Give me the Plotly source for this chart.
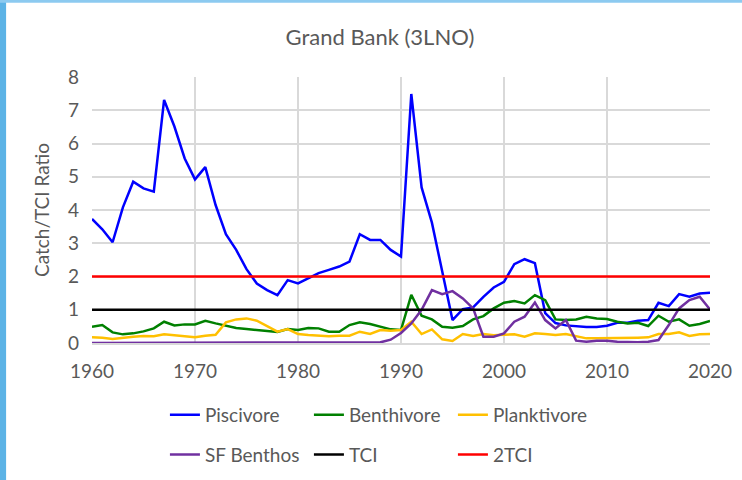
import plotly.graph_objects as go

years = list(range(1960, 2021))

piscivore = [3.73, 3.42, 3.03, 4.08, 4.85, 4.65, 4.55, 7.31, 6.51, 5.55,
             4.92, 5.29, 4.15, 3.27, 2.80, 2.22, 1.79, 1.59, 1.44, 1.89,
             1.79, 1.95, 2.10, 2.20, 2.30, 2.45, 3.27, 3.10, 3.10, 2.80,
             2.60, 7.49, 4.68, 3.62, 2.20, 0.69, 1.02, 1.07, 1.39, 1.67,
             1.84, 2.37, 2.52, 2.40, 0.90, 0.60, 0.53, 0.50, 0.48, 0.48,
             0.52, 0.61, 0.61, 0.67, 0.69, 1.21, 1.11, 1.47, 1.39, 1.49,
             1.51]
benthivore = [0.49, 0.54, 0.32, 0.26, 0.29, 0.35, 0.44, 0.64, 0.53, 0.56,
              0.56, 0.67, 0.59, 0.51, 0.45, 0.42, 0.39, 0.37, 0.33, 0.42,
              0.39, 0.45, 0.44, 0.34, 0.34, 0.54, 0.62, 0.57, 0.49, 0.41,
              0.39, 1.45, 0.82, 0.71, 0.49, 0.46, 0.51, 0.71, 0.81, 1.04,
              1.21, 1.26, 1.19, 1.44, 1.29, 0.71, 0.69, 0.71, 0.79, 0.74,
              0.72, 0.64, 0.59, 0.61, 0.51, 0.82, 0.64, 0.71, 0.52, 0.57,
              0.66]
planktivore = [0.17, 0.16, 0.12, 0.16, 0.19, 0.21, 0.20, 0.26, 0.23, 0.20,
               0.17, 0.22, 0.25, 0.62, 0.71, 0.74, 0.67, 0.51, 0.34, 0.42,
               0.27, 0.24, 0.22, 0.20, 0.22, 0.22, 0.34, 0.27, 0.39, 0.37,
               0.39, 0.64, 0.27, 0.41, 0.11, 0.06, 0.27, 0.21, 0.27, 0.23,
               0.25, 0.26, 0.19, 0.29, 0.27, 0.24, 0.27, 0.21, 0.14, 0.14,
               0.14, 0.14, 0.14, 0.16, 0.17, 0.27, 0.27, 0.32, 0.21, 0.26,
               0.27]
sf_benthos = [0.0] * 28 + [
              0.02, 0.10,
              0.30, 0.59, 1.00, 1.59, 1.47, 1.56, 1.34, 1.04, 0.19, 0.19,
              0.29, 0.64, 0.79, 1.22, 0.69, 0.44, 0.69, 0.07, 0.04, 0.07,
              0.07, 0.04, 0.02, 0.02, 0.04, 0.09, 0.54, 1.04, 1.29, 1.39,
              1.01]
tci = [1.0] * len(years)
tci2 = [2.0] * len(years)

grey = "#595959"
fnt = "Lato, 'Open Sans', sans-serif"

fig = go.Figure()
series = [
    ("Piscivore", piscivore, "#0000ff", "legend"),
    ("Benthivore", benthivore, "#008000", "legend"),
    ("Planktivore", planktivore, "#ffc000", "legend"),
    ("SF Benthos", sf_benthos, "#7030a0", "legend2"),
    ("TCI", tci, "#000000", "legend2"),
    ("2TCI", tci2, "#ff0000", "legend2"),
]
for name, vals, col, lg in series:
    fig.add_trace(go.Scatter(x=years, y=vals, mode="lines", name=name,
                             line=dict(color=col, width=2.5), legend=lg))

leg = dict(orientation="h", xanchor="left", yanchor="middle",
           font=dict(size=19, color=grey, family=fnt),
           itemwidth=30, entrywidth=99, entrywidthmode="pixels",
           bgcolor="rgba(0,0,0,0)")

fig.update_layout(
    width=742, height=480,
    margin=dict(l=92, r=32, t=77, b=137, autoexpand=False),
    paper_bgcolor="white", plot_bgcolor="white",
    font=dict(family=fnt, color=grey),
    title=dict(text="Grand Bank (3LNO)", x=0.512, xanchor="center",
               y=0.922, yanchor="middle",
               font=dict(size=22, color=grey, family=fnt)),
    legend=dict(leg, x=0.118, y=-0.27),
    legend2=dict(leg, x=0.118, y=-0.42),
    showlegend=True,
    shapes=[dict(type="rect", xref="paper", yref="paper",
                 x0=-0.155, x1=-0.139, y0=-0.55, y1=1.3,
                 fillcolor="#5cb3e6", line=dict(width=0), layer="below"),
            dict(type="rect", xref="paper", yref="paper",
                 x0=-0.155, x1=1.06, y0=1.279, y1=1.3,
                 fillcolor="#8ccaf0", line=dict(width=0), layer="below")],
)
fig.update_xaxes(range=[1960, 2020], tickvals=list(range(1960, 2021, 10)),
                 showgrid=True, gridcolor="#d9d9d9", gridwidth=1.5,
                 zeroline=False, showline=True, linecolor="#d9d9d9",
                 linewidth=1.5, ticks="", ticklabelstandoff=10,
                 tickfont=dict(size=19, color=grey))
fig.update_yaxes(range=[0, 8], dtick=1, showgrid=True, gridcolor="#d9d9d9",
                 gridwidth=1.5, zeroline=False, ticks="",
                 ticklabelstandoff=12,
                 tickfont=dict(size=19, color=grey),
                 title=dict(text="Catch/TCI Ratio", standoff=13,
                            font=dict(size=19, color=grey)))

fig.write_html("out.html", config={"displayModeBar": False},
               post_script="document.body.style.margin='0';")
